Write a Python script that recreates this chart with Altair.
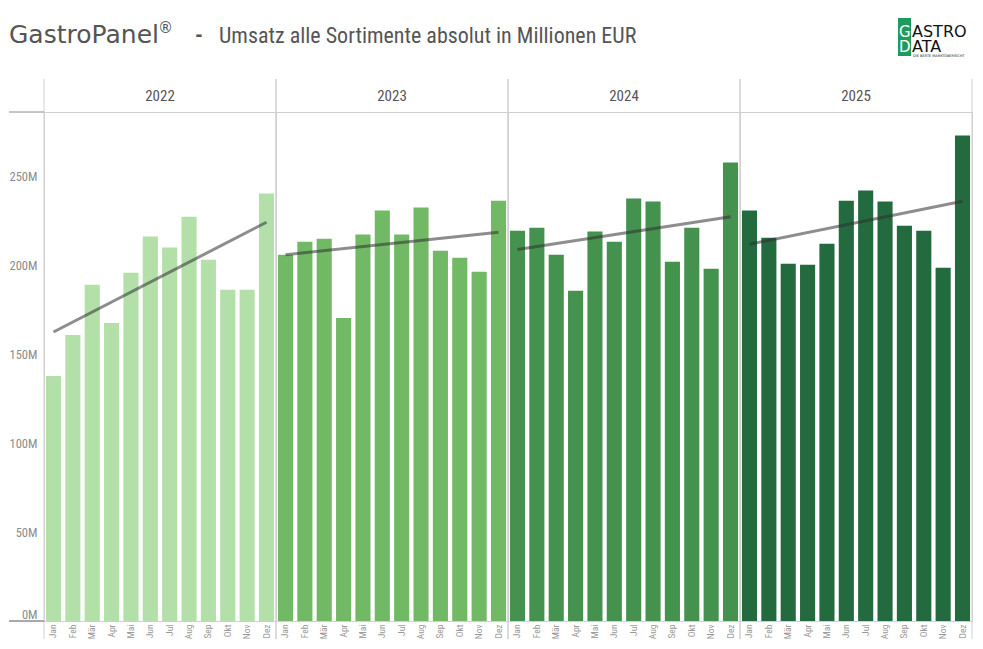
import json
import altair as alt
import pandas as pd

# ---------------- data ----------------
months = ["Jan", "Feb", "Mär", "Apr", "Mai", "Jun", "Jul", "Aug", "Sep", "Okt", "Nov", "Dez"]
years = ["2022", "2023", "2024", "2025"]
umsatz_2022 = [137.6, 160.7, 188.9, 167.5, 195.7, 216.0, 209.8, 227.2, 203.0, 186.1, 186.1, 240.2]
umsatz_2023 = [205.8, 213.1, 214.8, 170.3, 217.1, 230.6, 217.1, 232.3, 208.1, 204.1, 196.2, 236.2]
umsatz_2024 = [219.3, 221.0, 205.8, 185.5, 218.8, 213.1, 237.4, 235.7, 201.9, 221.0, 197.9, 257.6]
umsatz_2025 = [230.6, 215.4, 200.7, 200.2, 212.0, 236.2, 241.9, 235.7, 222.1, 219.3, 198.5, 272.8]
year_colors = ["#b3dfa8", "#72b966", "#45924f", "#236a3f"]
y_ticks = [0, 50, 100, 150, 200, 250]

rows = []
for yr, vals in zip(years, [umsatz_2022, umsatz_2023, umsatz_2024, umsatz_2025]):
    for i, (mo, v) in enumerate(zip(months, vals)):
        rows.append({"year": yr, "month": mo, "m": i + 1, "value": v})
df = pd.DataFrame(rows)

W = 232
H = 509
FONT = "Liberation Sans Narrow, Roboto Condensed, Liberation Sans"

# ---------------- panels ----------------
bars = alt.Chart().mark_bar().encode(
    x=alt.X(
        "month:N", sort=months, title=None,
        scale=alt.Scale(paddingInner=0.22, paddingOuter=0.1),
        axis=alt.Axis(labelAngle=-90, labelFontSize=9.5, labelColor="#9a9a9a", ticks=False,
                      domainColor="#555555", labelPadding=3, labelFont=FONT),
    ),
    y=alt.Y(
        "value:Q", title=None, scale=alt.Scale(domain=[0, 286], nice=False),
        axis=alt.Axis(values=y_ticks, labelExpr="datum.value + 'M'", grid=False, ticks=False,
                      domain=False, labelFontSize=12.5, labelColor="#8c8c8c", labelPadding=7,
                      labelFont=FONT, minExtent=35, maxExtent=35,
                      labelBaseline=alt.condition("datum.value == 0", alt.value("bottom"),
                                                  alt.value("middle"))),
    ),
    color=alt.Color("year:N", scale=alt.Scale(domain=years, range=year_colors), legend=None),
)

trend = (
    alt.Chart()
    .transform_regression("m", "value", groupby=["year"])
    .transform_calculate(month=f"{json.dumps(months, ensure_ascii=False)}[round(datum.m) - 1]")
    .mark_line(color="#2f2f2f", opacity=0.55, strokeWidth=3)
    .encode(x=alt.X("month:N", sort=months), y=alt.Y("value:Q"))
)

sep_l = alt.Chart().transform_filter("datum.m == 1").mark_rule(color="#d0d0d0").encode(
    x=alt.value(0), y=alt.value(-33), y2=alt.value(H + 18))
sep_r = alt.Chart().transform_filter("datum.m == 1").mark_rule(color="#d0d0d0").encode(
    x=alt.value(W), y=alt.value(-33), y2=alt.value(H + 18))
stub_top = alt.Chart().transform_filter("datum.m == 1 && datum.year == '2022'").mark_rule(
    color="#8a8a8a").encode(x=alt.value(-35), x2=alt.value(0), y=alt.value(0))
stub_bot = alt.Chart().transform_filter("datum.m == 1 && datum.year == '2022'").mark_rule(
    color="#555555").encode(x=alt.value(-35), x2=alt.value(0), y=alt.value(H))

panel = alt.layer(bars, trend, sep_l, sep_r, stub_top, stub_bot, data=df).properties(width=W, height=H)

facet = panel.facet(
    column=alt.Column("year:N", title=None,
                      header=alt.Header(labelFontSize=15, labelColor="#555555", labelFont=FONT,
                                        labelPadding=8, labelOrient="top")),
    spacing=0,
    bounds="flush",
)

# ---------------- header (title + logo) ----------------
OX, OY = 43, 8   # page position of the header chart's origin
hdr = alt.Data(values=[{"a": 1}])


def txt(text, x, y, size, color, font, weight="normal"):
    return alt.Chart(hdr).mark_text(
        text=text, align="left", baseline="alphabetic", fontSize=size, font=font,
        color=color, fontWeight=weight,
    ).encode(x=alt.value(x - OX), y=alt.value(y - OY))


logo_rect = alt.Chart(hdr).mark_rect(color="#1e9b5c").encode(
    x=alt.value(897 - OX), x2=alt.value(910 - OX), y=alt.value(17 - OY), y2=alt.value(55 - OY))

header = alt.layer(
    txt("GastroPanel", 8, 42, 25, "#555555", "DejaVu Sans"),
    txt("®", 157, 32, 15, "#555555", "DejaVu Sans"),
    txt("-", 194, 42, 22, "#555555", FONT, "bold"),
    txt("Umsatz alle Sortimente absolut in Millionen EUR", 218, 42, 22, "#555555", FONT),
    logo_rect,
    txt("G", 898, 36, 15, "#ffffff", "DejaVu Sans"),
    txt("ASTRO", 911, 36, 16, "#111111", "DejaVu Sans"),
    txt("D", 898, 51, 15, "#ffffff", "DejaVu Sans"),
    txt("ATA", 911, 51, 16, "#111111", "DejaVu Sans"),
    txt("DIE BESTE MARKTÜBERSICHT", 912, 56, 3.5, "#111111", "DejaVu Sans"),
).properties(width=4 * W, height=56, view=alt.ViewBackground(stroke="transparent"))

chart = alt.vconcat(header, facet, spacing=12).properties(padding=0).configure_view(stroke="#d0d0d0")

chart.save("out.html", embed_options={"renderer": "svg", "actions": False})
